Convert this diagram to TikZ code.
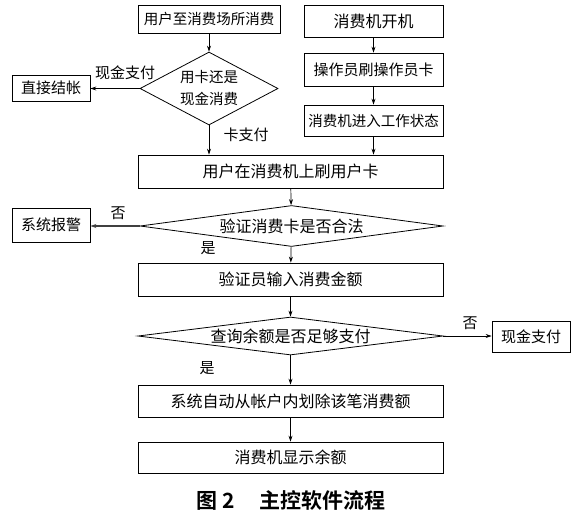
\documentclass[tikz,border=0pt]{standalone}
\usepackage{fontspec}
\setmainfont{Noto Sans CJK SC}[BoldFont={Noto Sans CJK SC Bold}]
\usetikzlibrary{arrows.meta,shapes.geometric}
\newcommand{\fsz}[1]{\fontsize{#1}{#1}\selectfont}
\begin{document}
\begin{tikzpicture}[x=1pt,y=-1pt,
  box/.style={draw, line width=0.8pt, inner sep=0pt},
  dia/.style={draw, diamond, line width=0.8pt, inner sep=0pt},
  txt/.style={font=\fsz{15}},
  stxt/.style={font=\fsz{14.5}},
  btxt/.style={font=\fsz{16}},
  lbl/.style={font=\fsz{15}, inner sep=0pt},
  arr/.style={draw, line width=0.7pt, -{Stealth[length=6pt,width=4pt]}}
]
\useasboundingbox (0,0) rectangle (572,514);
\fill[white] (0,0) rectangle (572,514);

% left top
\node[box, stxt, minimum width=142, minimum height=28] (a) at (209,19) {用户至消费场所消费};
\node[dia, minimum width=138, minimum height=73] (d1) at (209,88.5) {};
\node[font=\fontsize{14.5}{22}\selectfont, align=center] (d1t) at (d1) {用卡还是\\现金消费};
\node[box, txt, minimum width=78, minimum height=26] (b) at (51,88) {直接结帐};
\node[lbl] (l1) at (125,73) {现金支付};
\node[lbl] (l2) at (246,135) {卡支付};

% right top
\node[box, btxt, minimum width=139, minimum height=32] (r1) at (373.5,21) {消费机开机};
\node[box, txt, minimum width=139, minimum height=33] (r2) at (373.5,69.5) {操作员刷操作员卡};
\node[box, stxt, minimum width=139, minimum height=31] (r3) at (373.5,120.5) {消费机进入工作状态};

% main column
\node[box, btxt, minimum width=305, minimum height=33] (c) at (290.5,171.5) {用户在消费机上刷用户卡};
\node[dia, minimum width=303, minimum height=41] (d2) at (291.5,226) {};
\node[btxt] (d2t) at (d2) {验证消费卡是否合法};
\node[box, txt, minimum width=78, minimum height=34] (e) at (51,225) {系统报警};
\node[lbl] (l3) at (118,213) {否};
\node[lbl] (l4) at (208,248) {是};
\node[box, btxt, minimum width=305, minimum height=33] (f) at (290.5,279.5) {验证员输入消费金额};
\node[dia, minimum width=305, minimum height=38] (d3) at (290.5,336) {};
\node[btxt] (d3t) at (d3) {查询余额是否足够支付};
\node[box, txt, minimum width=78, minimum height=31] (g) at (531,336.5) {现金支付};
\node[lbl] (l5) at (470,323) {否};
\node[lbl] (l6) at (207,368) {是};
\node[box, btxt, minimum width=305, minimum height=32] (h) at (290.5,401) {系统自动从帐户内划除该笔消费额};
\node[box, btxt, minimum width=305, minimum height=31] (i) at (290.5,457.5) {消费机显示余额};
\node[font=\fsz{21}\bfseries, inner sep=0pt] (cap) at (291,500) {图 2\hspace{24pt}主控软件流程};

% connectors
\draw[arr] (a) -- (d1);
\draw[arr] (d1.west) -- (b.east |- d1.west);
\draw[arr] (d1.south) -- (d1.south |- c.north);
\draw[arr] (r1) -- (r2);
\draw[arr] (r2) -- (r3);
\draw[arr] (r3.south) -- (r3.south |- c.north);
\draw[arr] (c) -- (d2);
\draw[arr, line width=1.1pt, draw=black!75] (d2.west) -- (e.east |- d2.west);
\draw[arr] (d2) -- (f);
\draw[arr] (f) -- (d3);
\draw[arr] (d3.east) -- (g.west |- d3.east);
\draw[arr] (d3) -- (h);
\draw[arr] (h) -- (i);
\end{tikzpicture}
\end{document}
